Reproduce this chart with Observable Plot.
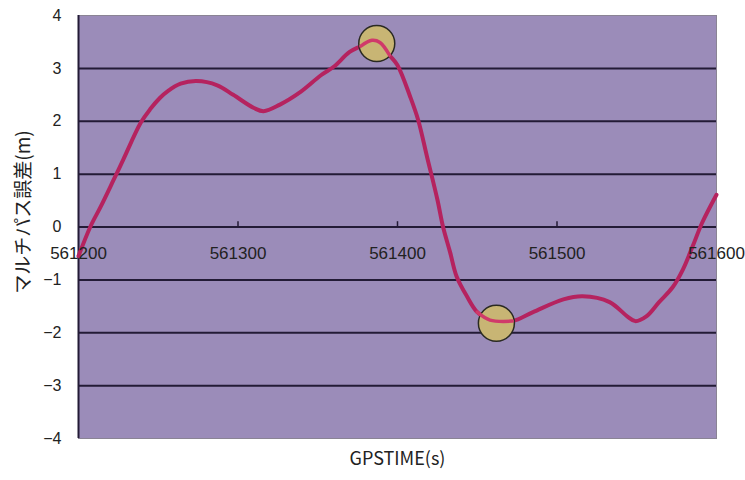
<!DOCTYPE html>
<html><head><meta charset="utf-8">
<script src="https://cdn.jsdelivr.net/npm/d3@7"></script>
<script src="https://cdn.jsdelivr.net/npm/@observablehq/plot@0.6"></script>
<style>body{margin:0;background:#fff}</style>
</head><body><div id="chart"></div>
<script>
const gpsTime = [561200,561207.5,561214,561222,561228,561239,561245,561251,561256,561264,561274,561287,561297,561310,561316,561326,561339,561352,561360,561370,561377,561384,561389,561395,561400,561408,561413,561418.5,561425,561428.5,561433,561437,561443.5,561450,561458,561472,561485,561504,561516,561533,561544,561549,561556,561564,561572.5,561579,561585,561591,561600];
const multipathErr = [-0.55,0.01,0.39,0.89,1.27,1.97,2.23,2.44,2.57,2.71,2.76,2.68,2.50,2.25,2.19,2.31,2.55,2.87,3.03,3.31,3.42,3.53,3.49,3.25,3.06,2.46,2.02,1.33,0.52,0.01,-0.48,-0.93,-1.31,-1.61,-1.76,-1.78,-1.61,-1.37,-1.31,-1.42,-1.69,-1.78,-1.69,-1.42,-1.14,-0.80,-0.37,0.08,0.61];
const markTime = [561387, 561462];
const markErr = [3.47, -1.82];
const xTicks = [561200, 561300, 561400, 561500, 561600];
const yTicks = [-4,-3,-2,-1,0,1,2,3,4];
const xLabel = "GPSTIME(s)";
const yLabel = "マルチパス誤差(m)";

const series = gpsTime.map((t,i)=>({t, e: multipathErr[i]}));
const marks = markTime.map((t,i)=>({t, e: markErr[i]}));

const chart = Plot.plot({
  width: 745, height: 480,
  marginLeft: 78, marginRight: 29, marginTop: 15, marginBottom: 42,
  x: {domain: [561200, 561600], axis: null},
  y: {domain: [-4, 4]},
  style: {fontFamily: "'Liberation Sans', Arial, sans-serif", background: "#fff"},
  marks: [
    Plot.frame({fill: "#9b8cb9", stroke: null}),
    Plot.ruleY(yTicks.filter(d=>d>-4 && d<4), {stroke: "#231b36", strokeWidth: 2}),
    Plot.frame({stroke: "#8a8494", strokeWidth: 1}),
    Plot.ruleX([561200], {stroke: "#231b36", strokeWidth: 2}),
    Plot.ruleX(xTicks.slice(1,4), {x: d=>d, y1: 0, y2: 0.1, stroke: "#231b36", strokeWidth: 1.5}),
    Plot.line(series, {x: "t", y: "e", stroke: "#b5235f", strokeWidth: 4, curve: "catmull-rom"}),
    Plot.dot(marks, {x: "t", y: "e", r: 18, fill: "#c8b574", stroke: "#2a2a22", strokeWidth: 1.5}),
    Plot.line(series.filter(d=>(d.t>561370&&d.t<561400)||(d.t>561445&&d.t<561480)), {x: "t", y: "e", z: d=>d.t<561420, stroke: "#d03a6a", strokeWidth: 3.5, curve: "catmull-rom"}),
    Plot.text(xTicks, {x: d=>d, y: 0, dy: 27, text: d=>String(d), fontSize: 17, fill: "#222"}),
    Plot.axisY({ticks: yTicks, tickSize: 0, tickPadding: 17, fontSize: 16, fill: "#222", label: null}),
    Plot.text([xLabel], {frameAnchor: "bottom", dy: 26, fontSize: 18, fill: "#222", fontFamily: "'Noto Sans CJK JP', sans-serif"}),
    Plot.text([yLabel], {frameAnchor: "left", textAnchor: "middle", dx: -55, dy: -15, rotate: -90, fontSize: 19, fill: "#222", fontFamily: "'Noto Sans CJK JP', sans-serif"})
  ]
});
document.getElementById("chart").appendChild(chart);
</script>
</body></html>
